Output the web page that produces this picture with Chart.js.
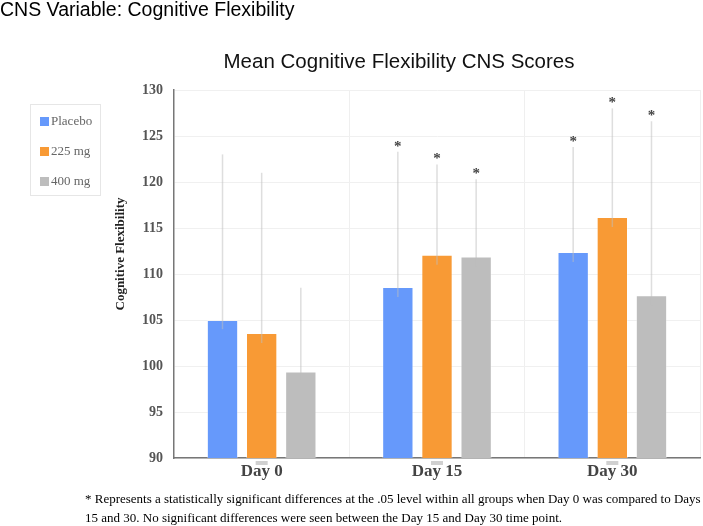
<!DOCTYPE html>
<html>
<head>
<meta charset="utf-8">
<script src="https://cdn.jsdelivr.net/npm/chart.js@4"></script>
<style>
  body { margin: 0; background: #fff; width: 703px; height: 526px; position: relative; overflow: hidden; }
  #wrap { position: absolute; left: 0; top: 0; width: 703px; height: 526px; }
  .txt { position: absolute; white-space: nowrap; }
  #header { left: 0; top: -2px; font-family: "Liberation Sans", sans-serif; font-size: 19.5px; color: #000; }
  #title { left: 0; width: 798px; top: 49px; text-align: center; font-family: "Liberation Sans", sans-serif; font-size: 20.5px; color: #111; }
  #note { left: 85px; top: 489px; font-family: "Liberation Serif", serif; font-size: 13px; line-height: 19px; color: #000; }
  #legend { left: 30px; top: 104px; width: 71px; height: 92px; border: 1px solid #e6e6e6; box-sizing: border-box;
            font-family: "Liberation Serif", serif; font-size: 13px; color: #666; }
  .item { position: absolute; left: 9px; }
  .sw { display: inline-block; width: 9px; height: 9px; margin-right: 2px; vertical-align: -1px; }
</style>
</head>
<body>
<div id="wrap"><canvas id="cnsChart" width="703" height="526"></canvas></div>
<div class="txt" id="header">CNS Variable: Cognitive Flexibility</div>
<div class="txt" id="title">Mean Cognitive Flexibility CNS Scores</div>
<div class="txt" id="legend"></div>
<div class="txt" id="note">* Represents a statistically significant differences at the .05 level within all groups when Day 0 was compared to Days<br>15 and 30. No significant differences were seen between the Day 15 and Day 30 time point.</div>
<script>
// Data
const days = ['Day 0', 'Day 15', 'Day 30'];
const groups = ['Placebo', '225 mg', '400 mg'];
const colors = ['#6699fb', '#f89a35', '#bdbdbd'];

const placebo = [105.0, 108.6, 112.4];
const mg225 = [103.6, 112.1, 116.2];
const mg400 = [99.4, 111.9, 107.7];

// error bar ends (low, high)
const placeboLow = [104.0, 107.5, 111.3];
const placeboHigh = [123.0, 123.3, 123.8];
const mg225Low = [102.5, 111.0, 115.1];
const mg225High = [121.0, 121.9, 128.0];
const mg400Low = [98.4, 110.8, 106.6];
const mg400High = [108.5, 120.3, 126.6];

// significance markers (*)
const placeboSig = [false, true, true];
const mg225Sig = [false, true, true];
const mg400Sig = [false, true, true];

const yTicks = [90, 95, 100, 105, 110, 115, 120, 125, 130];

const seriesValues = [placebo, mg225, mg400];
const lows = [placeboLow, mg225Low, mg400Low];
const highs = [placeboHigh, mg225High, mg400High];
const sigs = [placeboSig, mg225Sig, mg400Sig];

// legend box
const legendEl = document.getElementById('legend');
groups.forEach((g, i) => {
  const d = document.createElement('div');
  d.className = 'item';
  d.style.top = (8 + i * 30) + 'px';
  d.innerHTML = '<span class="sw" style="background:' + colors[i] + '"></span>' + g;
  legendEl.appendChild(d);
});

// error bars, asterisks and the little marks under the axis
const extrasPlugin = {
  id: 'extras',
  afterDatasetsDraw(chart) {
    const ctx = chart.ctx;
    const y = chart.scales.y;
    const x = chart.scales.x;
    ctx.save();
    seriesValues.forEach((vals, di) => {
      const meta = chart.getDatasetMeta(di);
      meta.data.forEach((bar, i) => {
        const yTop = y.getPixelForValue(highs[di][i]);
        const yLow = y.getPixelForValue(lows[di][i]);
        ctx.strokeStyle = 'rgba(190,190,190,0.5)';
        ctx.lineWidth = 1.5;
        ctx.beginPath();
        ctx.moveTo(bar.x, yLow);
        ctx.lineTo(bar.x, yTop);
        ctx.stroke();
        if (sigs[di][i]) {
          ctx.fillStyle = '#444';
          ctx.font = 'bold 15px "Liberation Serif", serif';
          ctx.textAlign = 'center';
          ctx.textBaseline = 'middle';
          ctx.fillText('*', bar.x, yTop - 5);
        }
      });
    });
    // small gray marks under category labels
    days.forEach((d, i) => {
      const cx = x.getPixelForValue(i);
      ctx.fillStyle = '#d0d0d0';
      ctx.fillRect(cx - 6, y.bottom + 3, 12, 4);
    });
    // rotated y title
    ctx.translate(121, 254);
    ctx.rotate(-Math.PI / 2);
    ctx.fillStyle = '#222';
    ctx.font = 'bold 13px "Liberation Serif", serif';
    ctx.textAlign = 'center';
    ctx.textBaseline = 'middle';
    ctx.fillText('Cognitive Flexibility', 0, 0);
    ctx.restore();
  }
};

function generateChart() {
  const ctx = document.getElementById('cnsChart').getContext('2d');
  new Chart(ctx, {
    type: 'bar',
    data: {
      labels: days,
      datasets: groups.map((g, i) => ({
        label: g,
        data: seriesValues[i],
        backgroundColor: colors[i],
        borderColor: 'rgba(255,255,255,0.35)',
        borderWidth: 1,
        categoryPercentage: 0.67,
        barPercentage: 0.8,
      })),
    },
    options: {
      responsive: false,
      animation: false,
      devicePixelRatio: 1,
      layout: { padding: { left: 110, right: 3, top: 90, bottom: 40 } },
      plugins: { legend: { display: false }, tooltip: { enabled: false } },
      scales: {
        x: {
          grid: { offset: true, color: '#efefef', drawTicks: false },
          border: { color: '#777', width: 1.5 },
          ticks: {
            color: '#444',
            padding: 3,
            font: { family: '"Liberation Serif", serif', size: 17, weight: 'bold' },
          },
          afterFit(scale) { scale.height = 28; },
        },
        y: {
          min: 90,
          max: 130,
          afterBuildTicks(scale) { scale.ticks = yTicks.map(v => ({ value: v })); },
          grid: { color: '#f0f0f0', drawTicks: false },
          border: { color: '#777', width: 1.5 },
          ticks: {
            color: '#555',
            padding: 11,
            font: { family: '"Liberation Serif", serif', size: 14, weight: 'bold' },
          },
          afterFit(scale) { scale.width = 64; },
        },
      },
    },
    plugins: [extrasPlugin],
  });
}

generateChart();
</script>
</body>
</html>
